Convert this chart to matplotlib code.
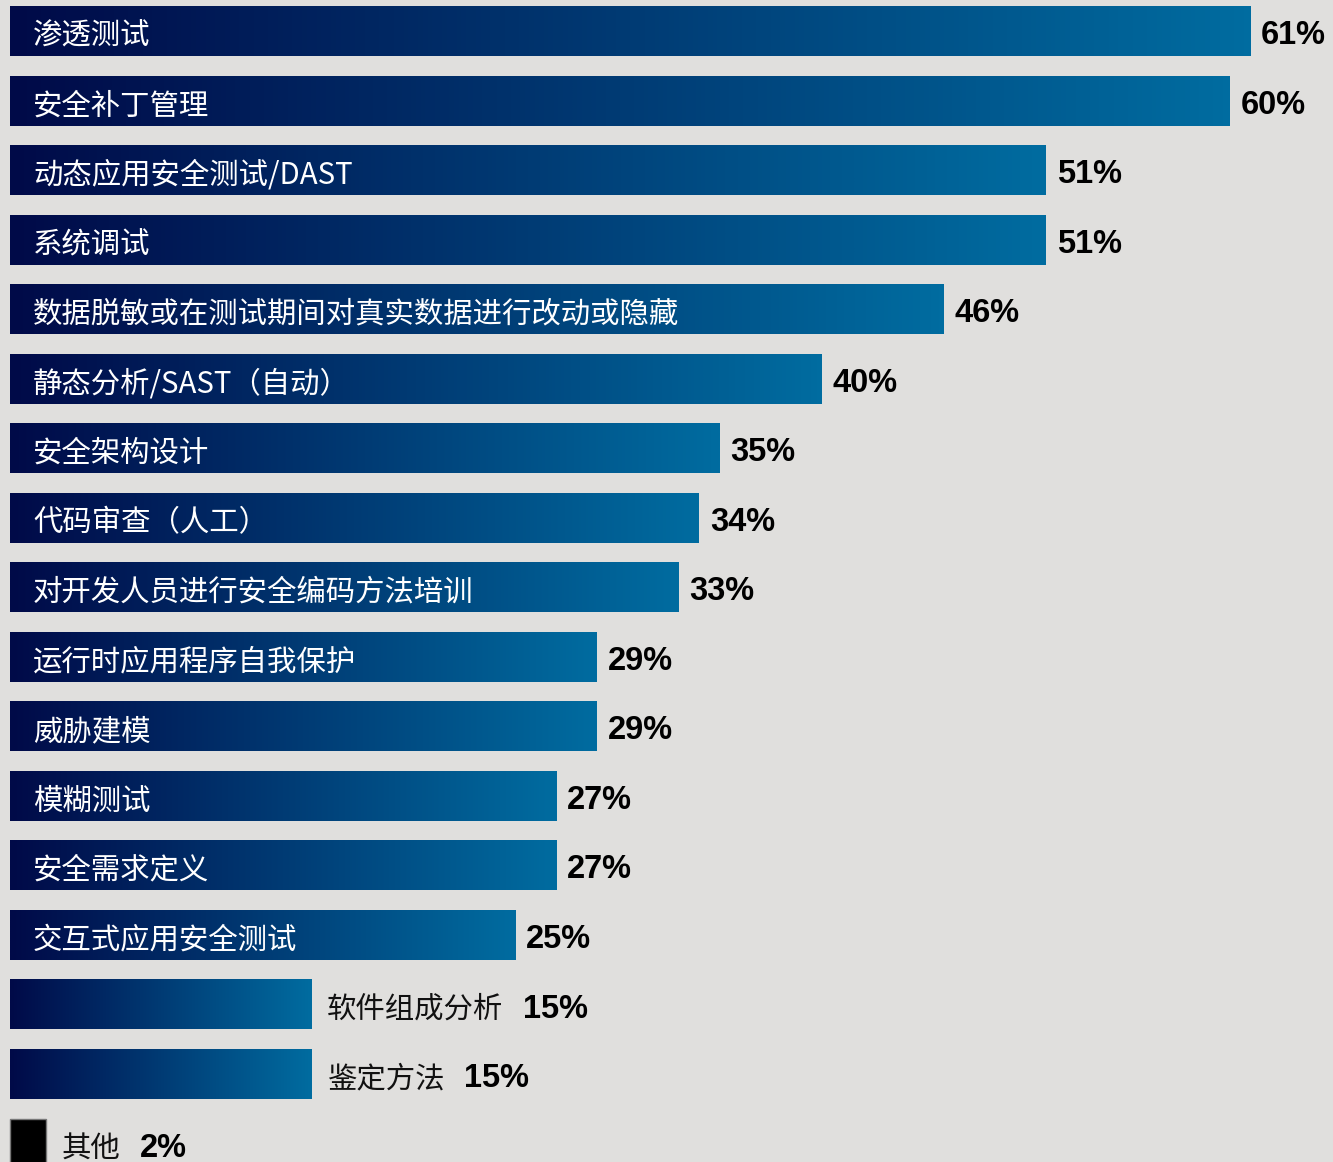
import numpy as np
import matplotlib
matplotlib.use("Agg")
import matplotlib.pyplot as plt
from matplotlib.colors import LinearSegmentedColormap

categories = [
    "渗透测试",
    "安全补丁管理",
    "动态应用安全测试/DAST",
    "系统调试",
    "数据脱敏或在测试期间对真实数据进行改动或隐藏",
    "静态分析/SAST（自动）",
    "安全架构设计",
    "代码审查（人工）",
    "对开发人员进行安全编码方法培训",
    "运行时应用程序自我保护",
    "威胁建模",
    "模糊测试",
    "安全需求定义",
    "交互式应用安全测试",
    "软件组成分析",
    "鉴定方法",
    "其他",
]
values = [61, 60, 51, 51, 46, 40, 35, 34, 33, 29, 29, 27, 27, 25, 15, 15, 2]
value_labels = [f"{v}%" for v in values]

BG = "#e0dfdd"
CJK = ["Noto Sans CJK SC", "DejaVu Sans"]
NUM = ["Liberation Sans", "DejaVu Sans"]

bar_cmap = LinearSegmentedColormap.from_list("navy_blue", ["#000a48", "#006ca0"])

fig = plt.figure(figsize=(13.33, 11.62), dpi=100, facecolor=BG)
ax = fig.add_axes([0, 0, 1, 1])
ax.set_facecolor(BG)

# horizontal scale: pixels per percentage point and pixel of the zero point
px_per_unit = 20.41
zero_px = 5.0
ax.set_xlim(-zero_px / px_per_unit, (1333 - zero_px) / px_per_unit)
pitch = 69.5
ax.set_ylim((1162 - 31.5) / pitch, -31.5 / pitch)
ax.axis("off")

bar_left = 5.0 / px_per_unit  # bars start a few pixels right of the zero point
h = 50 / pitch
grad = np.linspace(0, 1, 256).reshape(1, -1)
inside_limit = 20

for i, (name, v, lab) in enumerate(zip(categories, values, value_labels)):
    y0, y1 = i - h / 2, i + h / 2
    if name == "其他":
        ax.barh(i, v - bar_left, height=h, left=bar_left, color="black",
                edgecolor="#777777", linewidth=1)
    else:
        ax.imshow(grad, cmap=bar_cmap, aspect="auto", extent=[bar_left, v, y1, y0],
                  interpolation="bilinear", zorder=2)
    if v >= inside_limit:
        ax.text(bar_left + 23 / px_per_unit, i + 0.07, name, color="white",
                fontsize=21.2, family=CJK, va="center", ha="left", zorder=3)
        ax.text(v + 11 / px_per_unit, i + 0.06, lab, color="black", fontsize=23.5,
                family=NUM, weight="bold", va="center", ha="left", zorder=3)
    else:
        t = ax.text(v + 16 / px_per_unit, i + 0.07, name, color="#111111",
                    fontsize=21.2, family=CJK, va="center", ha="left", zorder=3)
        ax.annotate(lab, xy=(1, 0.5), xycoords=t, xytext=(14, 0),
                    textcoords="offset points", color="black", fontsize=23.5,
                    family=NUM, weight="bold", va="center", ha="left", zorder=3)

fig.savefig("out.png", dpi=100, facecolor=BG)
